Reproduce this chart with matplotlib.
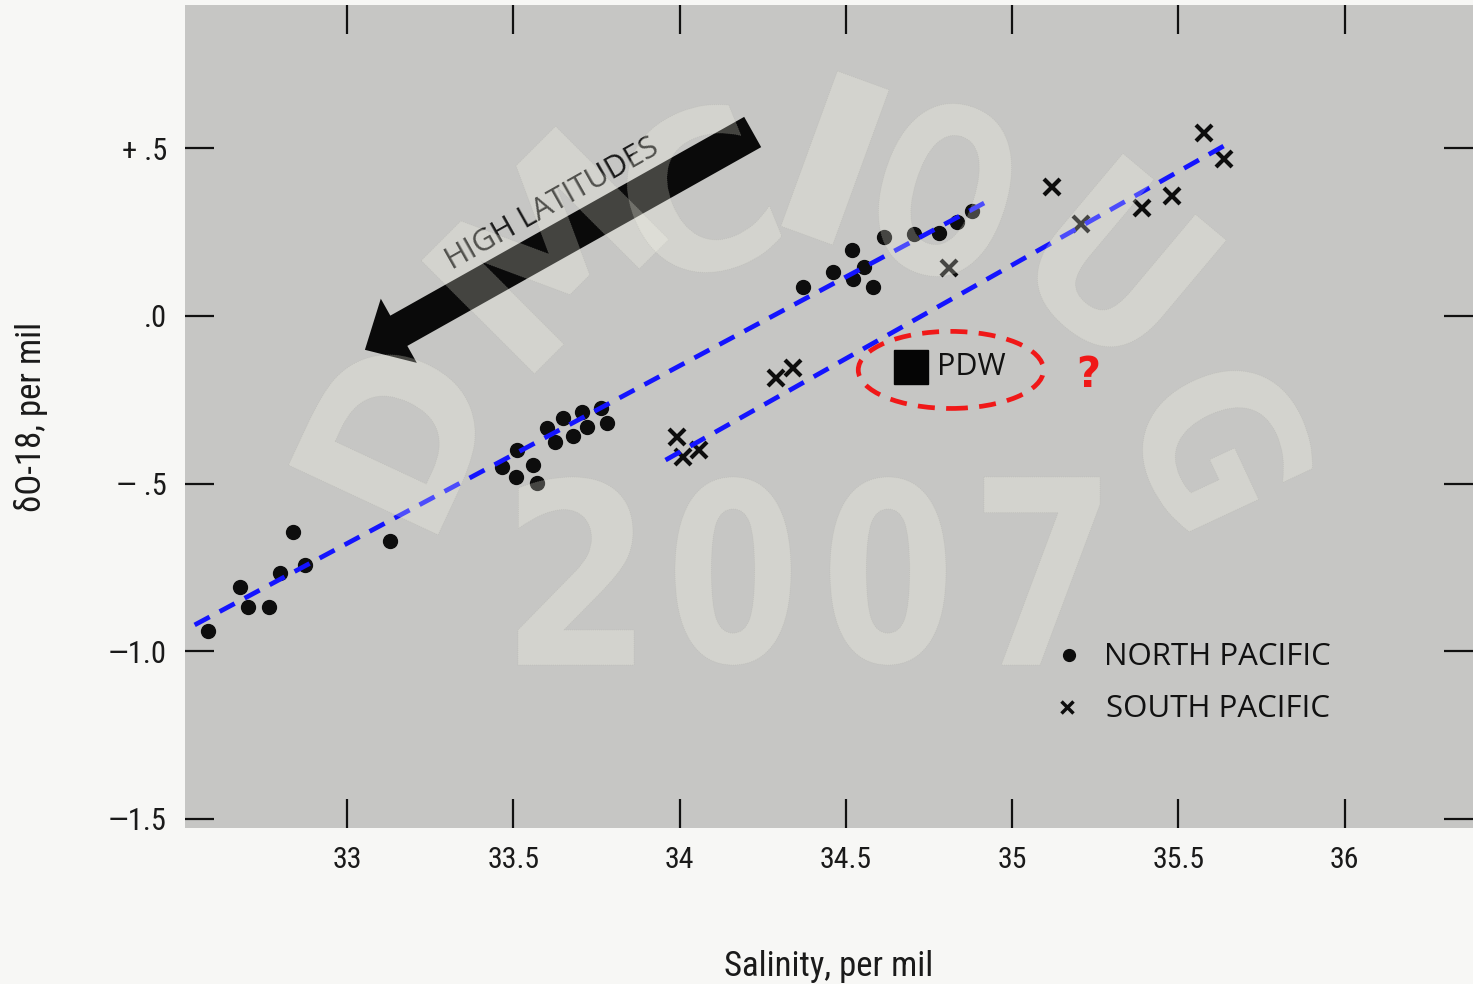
import numpy as np
import matplotlib
matplotlib.use("Agg")
import matplotlib.pyplot as plt
from matplotlib import font_manager as fm
from matplotlib.font_manager import FontProperties
from matplotlib.patches import Ellipse, PathPatch
from matplotlib.textpath import TextPath
from matplotlib.transforms import Affine2D, IdentityTransform

# ---- data -------------------------------------------------------------
north_sal = [32.581, 32.678, 32.702, 32.765, 32.798, 32.837, 32.873, 33.130,
             33.467, 33.509, 33.512, 33.560, 33.572, 33.602, 33.627, 33.651,
             33.681, 33.708, 33.723, 33.765, 33.783,
             34.370, 34.461, 34.518, 34.521, 34.554, 34.581, 34.614, 34.705,
             34.780, 34.834, 34.880]
north_d18 = [-0.940, -0.809, -0.869, -0.869, -0.767, -0.645, -0.743, -0.672,
             -0.451, -0.481, -0.400, -0.445, -0.499, -0.334, -0.376, -0.304,
             -0.358, -0.287, -0.331, -0.275, -0.319,
             0.087, 0.131, 0.197, 0.110, 0.146, 0.087, 0.236, 0.245,
             0.248, 0.281, 0.313]

south_sal = [33.991, 34.009, 34.060, 34.289, 34.340, 34.810,
             35.120, 35.208, 35.392, 35.482, 35.578, 35.636]
south_d18 = [-0.361, -0.421, -0.400, -0.185, -0.155, 0.143,
             0.385, 0.275, 0.322, 0.358, 0.546, 0.469]

pdw_sal, pdw_d18 = 34.696, -0.151

# fitted trend lines (end points)
north_fit_sal = [32.542, 34.916]
north_fit_d18 = [-0.922, 0.337]
south_fit_sal = [33.958, 35.636]
south_fit_d18 = [-0.430, 0.507]

x_ticks = [33, 33.5, 34, 34.5, 35, 35.5, 36]
x_ticklabels = ["33", "33.5", "34", "34.5", "35", "35.5", "36"]
y_ticks = [0.5, 0.0, -0.5, -1.0, -1.5]
y_ticklabels = ["+ .5", ".0", "\u2014 .5", "\u20141.0", "\u20141.5"]

# ---- fonts ------------------------------------------------------------
installed = {f.name for f in fm.fontManager.ttflist}


def first_font(candidates):
    for name in candidates:
        if name in installed:
            return name
    return "DejaVu Sans"


narrow = first_font(["Liberation Sans Narrow", "Roboto Condensed", "DejaVu Sans"])
label_font = first_font(["Open Sans", "Lato", "DejaVu Sans"])
narrow_fam = [narrow, "DejaVu Sans"]

W, H = 1473, 984

# ---- figure -----------------------------------------------------------
fig = plt.figure(figsize=(W / 100, H / 100), dpi=100, facecolor="#f7f7f5")
ax = fig.add_axes([185 / W, 1 - 828 / H, 1 - 185 / W, (828 - 5) / H])
ax.set_facecolor("#c6c6c4")
ax.set_xlim(32.513, 36.386)
ax.set_ylim(-1.528, 0.928)
for s in ax.spines.values():
    s.set_visible(False)

ax.set_xticks(x_ticks)
ax.set_xticklabels(x_ticklabels, fontfamily=narrow_fam, fontstretch="condensed", fontsize=21.5)
ax.set_yticks(y_ticks)
ax.set_yticklabels(y_ticklabels, fontfamily=narrow_fam, fontstretch="condensed", fontsize=22)
ax.tick_params(axis="both", direction="in", length=21, width=1.6, color="#111111",
               top=True, right=True, labelcolor="#1a1a1a")
ax.tick_params(axis="x", pad=13)
ax.tick_params(axis="y", pad=13)

ax.set_xlabel("Salinity, per mil", fontfamily=narrow_fam, fontstretch="condensed",
              fontsize=25, color="#1a1a1a")
ax.xaxis.set_label_coords(0.5, (828 - 950) / 823)
ax.set_ylabel("\u03b4O-18, per mil", fontfamily=narrow_fam, fontstretch="condensed",
              fontsize=25, color="#1a1a1a")
ax.yaxis.set_label_coords((48 - 185) / 1288, 0.5)

# data
ax.plot(north_sal, north_d18, "o", ms=10, color="#0d0d0d", zorder=4)
ax.plot(south_sal, south_d18, "x", ms=12, mew=3, color="#0d0d0d", zorder=4)
ax.plot([pdw_sal], [pdw_d18], "s", ms=25, color="#050505", zorder=4)
ax.text(pdw_sal + 0.079, pdw_d18, "PDW", fontfamily=label_font, fontsize=22,
        va="center", ha="left", color="#111111", zorder=4)

# trend lines
ax.plot(north_fit_sal, north_fit_d18, color="#1414ff", lw=3.4, dashes=(3.6, 2.4), zorder=7)
ax.plot(south_fit_sal, south_fit_d18, color="#1414ff", lw=3.4, dashes=(3.6, 2.4), zorder=7)

# PDW highlight
ell = Ellipse((34.816, -0.161), 0.557, 0.230, fill=False, ec="#f01818", lw=3.4,
              linestyle=(0, (3.6, 2.4)), zorder=7)
ax.add_patch(ell)
ax.text(35.229, -0.176, "?", color="#f01818", fontsize=30, fontweight="bold",
        ha="center", va="center", zorder=7)

# high-latitude arrow
ax.annotate("", xy=(33.054, -0.101), xytext=(34.220, 0.549),
            arrowprops=dict(arrowstyle="simple,head_length=2.8,head_width=5.3,tail_width=2.5",
                            mutation_scale=10, fc="#0a0a0a", ec="#0a0a0a", lw=0,
                            shrinkA=0, shrinkB=0),
            zorder=3)
ax.text(33.617, 0.334, "HIGH LATITUDES", fontfamily=label_font, fontsize=22,
        rotation=29.4, rotation_mode="anchor", ha="center", va="center",
        color="#1a1a1a", zorder=3)

# legend
ax.plot([0.686], [0.210], "o", ms=8.5, color="#0d0d0d", transform=ax.transAxes)
ax.text(0.7135, 0.208, "NORTH PACIFIC", fontfamily=label_font, fontsize=22.5,
        va="center", ha="left", transform=ax.transAxes, color="#111111")
ax.plot([0.685], [0.147], "x", ms=9, mew=2.5, color="#0d0d0d", transform=ax.transAxes)
ax.text(0.715, 0.1446, "SOUTH PACIFIC", fontfamily=label_font, fontsize=22.5,
        va="center", ha="left", transform=ax.transAxes, color="#111111")

# faint watermark lettering drawn over the plot
wm_fp = FontProperties(family="DejaVu Sans", weight="bold")


def watermark_glyph(ch, cx, cy, width, height, rot):
    tp = TextPath((0, 0), ch, size=100, prop=wm_fp)
    bb = tp.get_extents()
    tr = (Affine2D()
          .translate(-bb.x0 - bb.width / 2, -bb.y0 - bb.height / 2)
          .scale(width / bb.width, height / bb.height)
          .rotate_deg(rot)
          .translate(cx, H - cy))
    patch = PathPatch(tr.transform_path(tp), transform=IdentityTransform(),
                      fc="#fffff0", ec="#9a9a90", lw=0.6, ls=(0, (1, 1.5)),
                      alpha=0.24, zorder=6)
    fig.add_artist(patch)


arc_letters = [("D", 395, 432, 150, 165, 65), ("M", 545, 250, 190, 160, 45),
               ("C", 695, 195, 130, 165, 22), ("I", 835, 158, 55, 165, -20),
               ("O", 945, 190, 125, 175, -17), ("U", 1120, 262, 135, 170, -40),
               ("G", 1222, 442, 135, 165, -65)]
for ch, cx, cy, w, h, rot in arc_letters:
    watermark_glyph(ch, cx, cy, w, h, rot)
for ch, cx in zip("2007", [576, 733, 888, 1042]):
    watermark_glyph(ch, cx, 571, 116, 188, 0)

fig.savefig("out.png", dpi=100, facecolor=fig.get_facecolor())
